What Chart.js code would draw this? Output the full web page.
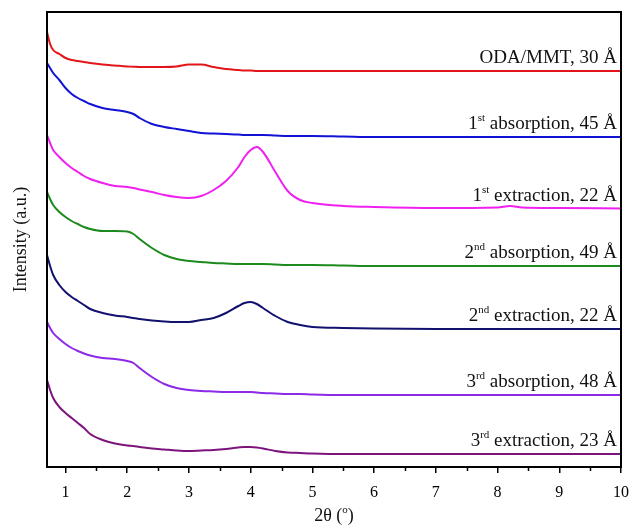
<!DOCTYPE html>
<html>
<head>
<meta charset="utf-8">
<script src="https://cdn.jsdelivr.net/npm/chart.js@4"></script>
<style>
  html, body { margin: 0; padding: 0; background: #fff; }
  #wrap { width: 633px; height: 526px; }
</style>
</head>
<body>
<div id="wrap"><canvas id="xrdChart"></canvas></div>
<script>
// 2 theta positions (deg)
const twoTheta = [0.7, 0.75, 0.8, 0.9, 1.0, 1.1, 1.2, 1.3, 1.4, 1.6, 1.8, 2.0, 2.1, 2.2, 2.4, 2.6, 2.8, 3.0, 3.2, 3.4,
    3.6, 3.8, 3.9, 4.0, 4.1, 4.2, 4.4, 4.6, 4.8, 5.0, 5.5, 6, 7, 8, 8.2, 8.4, 9, 10];

// intensities (a.u., curves already stacked)
const odaMmt = [435, 423, 417, 413, 409, 407, 406, 405, 404, 402.5, 401.5, 400.5, 400.3, 400, 400, 400, 400.5, 402.5, 402.5, 400,
    398, 397, 396.5, 396.5, 396, 396, 396, 396, 396, 396, 396, 396, 396, 396, 396, 396, 396, 396];
const absorption1 = [404, 399, 394, 387, 379, 373, 369, 366, 363, 359, 357, 355, 353, 349, 343, 340, 338, 336, 334, 333.5,
    333, 332.5, 332, 332, 332, 332, 331.5, 331, 331, 331, 330.5, 330, 330, 330, 330, 330, 330, 330];
const extraction1 = [332, 324, 317, 310, 304, 299, 295, 291, 288, 284, 281, 280, 279, 277.5, 275, 272, 270, 269, 271, 277,
    286, 300, 310, 317, 320, 315, 295, 276, 267, 264, 261, 260, 259, 259.5, 261, 259.5, 259, 258.5];
const absorption2 = [275, 268, 262, 255, 250, 246, 243, 240, 238, 236, 236, 235.5, 233, 228, 219, 212, 208, 206, 205, 204,
    203.5, 203, 203, 203, 203, 203, 202.5, 202, 202, 202, 201.5, 201, 201, 201, 201, 201, 201, 201];
const extraction2 = [212, 201, 192, 182, 175, 170, 166, 162, 158, 154, 151.5, 150, 149, 148, 146.5, 145.5, 145, 145, 147, 149,
    154, 161, 164, 165, 163, 159, 151, 145, 142, 140, 139, 138.5, 138, 138, 138, 138, 138, 138];
const absorption3 = [145, 139, 134, 128, 123, 119, 116, 113.5, 111.5, 109, 108, 106, 104, 99, 90, 83, 79, 77, 76, 75.5,
    75, 75, 75, 75, 74.5, 74, 73.5, 73, 73, 72.5, 72, 72, 72, 72, 72, 72, 72, 72];
const extraction3 = [87, 77, 69, 60, 54, 49, 44, 39, 33, 27, 23.5, 21.5, 21, 20, 18.5, 17.5, 16.5, 16, 16.5, 17,
    18, 19.5, 20, 20, 19.5, 18.5, 16, 14.5, 14, 13.5, 13, 13, 13, 13, 13, 13, 13, 13];

const seriesValues = [odaMmt, absorption1, extraction1, absorption2, extraction2, absorption3, extraction3];
const seriesColors = ['#e2161a', '#1212d4', '#f020f0', '#1c8a1c', '#12126e', '#8c2ae8', '#7c147c'];
// label parts: [number, superscript, rest]
const seriesLabels = [
    ['', '', 'ODA/MMT, 30 Å'],
    ['1', 'st', ' absorption, 45 Å'],
    ['1', 'st', ' extraction, 22 Å'],
    ['2', 'nd', ' absorption, 49 Å'],
    ['2', 'nd', ' extraction, 22 Å'],
    ['3', 'rd', ' absorption, 48 Å'],
    ['3', 'rd', ' extraction, 23 Å']
];
const xTicks = [1, 2, 3, 4, 5, 6, 7, 8, 9, 10];

const serif = "'Liberation Serif', 'Times New Roman', serif";

const decorPlugin = {
    id: 'decor',
    afterDraw(chart) {
        const { ctx, chartArea: a, scales: { x, y } } = chart;
        ctx.save();

        // frame
        ctx.strokeStyle = '#000';
        ctx.lineWidth = 2;
        ctx.strokeRect(a.left, a.top, a.right - a.left, a.bottom - a.top);

        // minor ticks
        ctx.lineWidth = 1.5;
        ctx.beginPath();
        for (let v = 1.5; v < 10; v += 1) {
            const px = Math.round(x.getPixelForValue(v)) + 0.5;
            ctx.moveTo(px, a.bottom);
            ctx.lineTo(px, a.bottom + 4);
        }
        ctx.stroke();

        // curve labels
        ctx.fillStyle = '#111';
        ctx.textBaseline = 'alphabetic';
        ctx.textAlign = 'left';
        seriesLabels.forEach((parts, i) => {
            const vals = seriesValues[i];
            const baseY = y.getPixelForValue(vals[vals.length - 1]) - 8;
            ctx.font = '19px ' + serif;
            const w0 = ctx.measureText(parts[0]).width;
            const w2 = ctx.measureText(parts[2]).width;
            ctx.font = '11px ' + serif;
            const w1 = ctx.measureText(parts[1]).width;
            let px = a.right - 4 - (w0 + w1 + w2);
            ctx.font = '19px ' + serif;
            ctx.fillText(parts[0], px, baseY);
            px += w0;
            ctx.font = '11px ' + serif;
            ctx.fillText(parts[1], px, baseY - 8);
            px += w1;
            ctx.font = '19px ' + serif;
            ctx.fillText(parts[2], px, baseY);
        });

        // x title with superscript degree
        ctx.font = '18px ' + serif;
        const t1 = '2θ (', t3 = ')';
        const tw1 = ctx.measureText(t1).width, tw3 = ctx.measureText(t3).width;
        ctx.font = '11px ' + serif;
        const tw2 = ctx.measureText('o').width;
        const cx = (a.left + a.right) / 2;
        let tx = cx - (tw1 + tw2 + tw3) / 2;
        const ty = 521;
        ctx.font = '18px ' + serif;
        ctx.fillText(t1, tx, ty);
        tx += tw1;
        ctx.font = '11px ' + serif;
        ctx.fillText('o', tx, ty - 8);
        tx += tw2;
        ctx.font = '18px ' + serif;
        ctx.fillText(t3, tx, ty);

        // y title
        ctx.translate(21, (a.top + a.bottom) / 2);
        ctx.rotate(-Math.PI / 2);
        ctx.textAlign = 'center';
        ctx.textBaseline = 'middle';
        ctx.font = '18px ' + serif;
        ctx.fillText('Intensity (a.u.)', 0, 0);

        ctx.restore();
    }
};

new Chart(document.getElementById('xrdChart'), {
    type: 'line',
    data: {
        datasets: seriesValues.map((vals, i) => ({
            label: seriesLabels[i].join(''),
            data: twoTheta.map((t, k) => ({ x: t, y: vals[k] })),
            borderColor: seriesColors[i],
            borderWidth: 2,
            pointRadius: 0,
            fill: false,
            cubicInterpolationMode: 'monotone'
        }))
    },
    options: {
        responsive: true,
        maintainAspectRatio: false,
        animation: false,
        layout: { padding: { left: 47, top: 12, right: 12, bottom: 0 } },
        plugins: {
            legend: { display: false },
            tooltip: { enabled: false }
        },
        scales: {
            x: {
                type: 'linear',
                min: 0.7,
                max: 10,
                afterBuildTicks: scale => { scale.ticks = xTicks.map(v => ({ value: v })); },
                afterFit: scale => {
                    scale.height = 59;
                    scale.paddingLeft = 0;
                    scale.paddingRight = 0;
                },
                grid: {
                    drawOnChartArea: false,
                    drawTicks: true,
                    tickLength: 6,
                    color: '#000',
                    lineWidth: 1.5
                },
                border: { color: '#000', width: 2 },
                ticks: {
                    autoSkip: false,
                    maxRotation: 0,
                    padding: 10,
                    color: '#000',
                    font: { family: serif, size: 16 }
                }
            },
            y: {
                display: false,
                min: 0,
                max: 455
            }
        }
    },
    plugins: [decorPlugin]
});
</script>
</body>
</html>
